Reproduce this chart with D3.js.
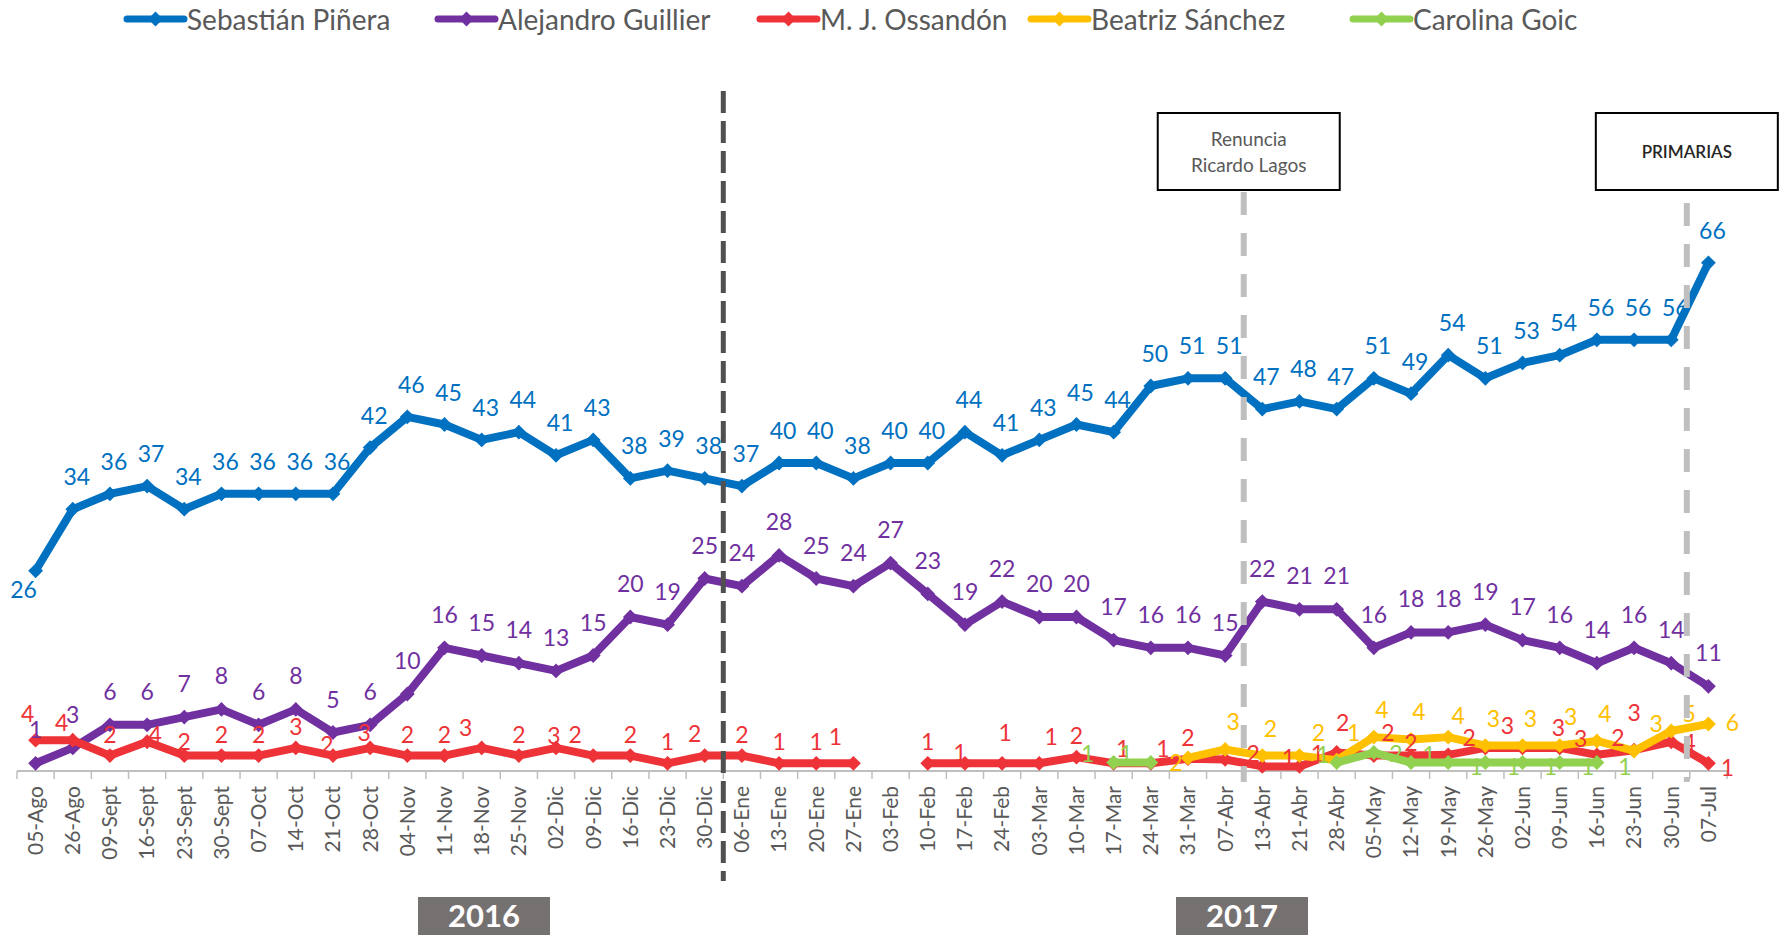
<!DOCTYPE html>
<html>
<head>
<meta charset="utf-8">
<script src="https://cdn.jsdelivr.net/npm/d3@7"></script>
<style>
  body { margin: 0; background: #fff; }
  svg text { font-family: Lato, "Open Sans", sans-serif; }
</style>
</head>
<body>
<svg id="chart"></svg>
<script>
// weekly dates (2016 -> 2017)
var categories = ["05-Ago","26-Ago","09-Sept","16-Sept","23-Sept","30-Sept","07-Oct","14-Oct","21-Oct","28-Oct",
  "04-Nov","11-Nov","18-Nov","25-Nov","02-Dic","09-Dic","16-Dic","23-Dic","30-Dic","06-Ene",
  "13-Ene","20-Ene","27-Ene","03-Feb","10-Feb","17-Feb","24-Feb","03-Mar","10-Mar","17-Mar",
  "24-Mar","31-Mar","07-Abr","13-Abr","21-Abr","28-Abr","05-May","12-May","19-May","26-May",
  "02-Jun","09-Jun","16-Jun","23-Jun","30-Jun","07-Jul"]

var pinera = [26,34,36,37,34,36,36,36,36,42, 46,45,43,44,41,43,38,39,38,37,
  40,40,38,40,40,44,41,43,45,44, 50,51,51,47,48,47,51,49,54,51, 53,54,56,56,56,66]

var guillier = [1,3,6,6,7,8,6,8,5,6, 10,16,15,14,13,15,20,19,25,24,
  28,25,24,27,23,19,22,20,20,17, 16,16,15,22,21,21,16,18,18,19, 17,16,14,16,14,11]

var ossandon = [4,4,2,3.8,2,2,2,3,2,3, 2,2,3,2,3,2,2,1,2,2,
  1,1,1,null,1,1,1,1,1.8,1, 1,1.6,1.5,0.6,0.6,2.4,2,2,2.1,3, 3,3,2.1,2.7,3.8,1]

var sanchez = [null,null,null,null,null,null,null,null,null,null, null,null,null,null,null,null,null,null,null,null,
  null,null,null,null,null,null,null,null,null,null, null,1.7,2.8,2,2,1.4,4.4,4.1,4.4,3.3, 3.3,3.3,3.9,2.6,5.2,6.1]

var goic = [null,null,null,null,null,null,null,null,null,null, null,null,null,null,null,null,null,null,null,null,
  null,null,null,null,null,null,null,null,null,1.1, 1.1,null,null,null,null,1.1,2.4,1.1,1.1,1.1, 1.1,1.1,1.1,null,null,null]

var seriesNames = ["Sebastián Piñera","Alejandro Guillier","M. J. Ossandón","Beatriz Sánchez","Carolina Goic"]
var seriesValues = [pinera, guillier, ossandon, sanchez, goic]
var seriesColors = ["#0070C0","#7030A0","#EE3338","#FFC000","#92D050"]

var yearLabels = ["2016","2017"]
var eventLabels = [["Renuncia","Ricardo Lagos"],["PRIMARIAS"]]
var eventCats = ["13-Abr","07-Jul"]

var W = 1783, H = 935
var svg = d3.select("#chart").attr("width", W).attr("height", H)
svg.append("rect").attr("width", W).attr("height", H).attr("fill", "#fff")

var y0 = 771
var x = d3.scaleBand().domain(categories).range([17, 1727]).padding(0)
var y = d3.scaleLinear().domain([0, 70]).range([y0, y0 - 70 * 7.7])
var cx = c => x(c) + x.bandwidth() / 2

// axis line + boundary ticks
svg.append("line").attr("x1", 17).attr("x2", 1727).attr("y1", y0).attr("y2", y0)
  .attr("stroke", "#BFBFBF").attr("stroke-width", 2)
svg.append("g").selectAll("line")
  .data(categories.map(c => x(c)).concat([x.range()[1]]))
  .join("line")
  .attr("x1", d => d).attr("x2", d => d).attr("y1", y0).attr("y2", y0 + 8)
  .attr("stroke", "#BFBFBF").attr("stroke-width", 1.5)

var gx = svg.append("g").attr("transform", `translate(0,${y0})`)
  .call(d3.axisBottom(x).tickSize(0))
gx.select(".domain").remove()
gx.selectAll("text")
  .attr("transform", "rotate(-90)")
  .attr("text-anchor", "end")
  .attr("x", -15).attr("y", 0).attr("dy", "0.35em")
  .attr("fill", "#595959")
  .style("font-size", "21px")
  .style("font-family", "Lato, sans-serif")

// lines
var line = d3.line()
  .defined(d => d.v != null)
  .x(d => cx(d.c))
  .y(d => y(d.v))

var marker = d3.symbol().type(d3.symbolSquare).size(110)

seriesValues.forEach(function(vals, i){
  var pts = vals.map((v, j) => ({c: categories[j], v: v, i: j}))
  var g = svg.append("g")
  g.append("path").datum(pts)
    .attr("d", line)
    .attr("fill", "none")
    .attr("stroke", seriesColors[i])
    .attr("stroke-width", 8)
    .attr("stroke-linejoin", "round")
  g.selectAll("path.m").data(pts.filter(d => d.v != null))
    .join("path").attr("class", "m")
    .attr("d", marker)
    .attr("transform", d => `translate(${cx(d.c)},${y(d.v)}) rotate(45)`)
    .attr("fill", seriesColors[i])
})

// data label placement (dx, dy from marker), tweaks where the original was moved by hand
var labelShift = [
  {def: [4, -33], 0: [-12, 18]},
  {def: [0, -34]},
  {def: [0, -22], 0: [-8,-27], 1: [-11,-18], 3: [8,-8], 4: [0,-15], 8: [-6,-12], 9: [-6,-16], 12: [-16,-21],
    14: [-2,-13], 15: [-18,-22], 18: [-10,-23], 22: [-18,-27], 25: [-5,-11], 26: [3,-31], 27: [12,-27],
    29: [9,-15], 30: [12,-15], 32: [28,-6], 33: [26,-9], 34: [18,-13], 35: [6,-31], 36: [14,-24], 37: [0,-14],
    38: [21,-18], 39: [22,-23], 40: [36,-21], 41: [21,-10], 42: [21,-18], 43: [0,-38], 44: [18,0], 45: [19,4]},
  {def: [8, -28], 31: [-12,4], 34: [19,-24], 35: [17,-28], 38: [10,-22], 41: [11,-30], 43: [22,-28], 44: [18,-18], 45: [24,-2]},
  {def: [28, 3], 29: [-26,-10], 30: [-25,-10], 35: [-14,-9], 36: [22,0], 37: [18,-9]}
]

seriesValues.forEach(function(vals, i){
  var pts = vals.map((v, j) => ({c: categories[j], v: v, i: j})).filter(d => d.v != null)
  var sh = labelShift[i]
  svg.append("g").selectAll("text").data(pts).join("text")
    .attr("x", d => cx(d.c) + (sh[d.i] || sh.def)[0])
    .attr("y", d => y(d.v) + (sh[d.i] || sh.def)[1])
    .attr("text-anchor", "middle")
    .attr("dominant-baseline", "central")
    .attr("fill", seriesColors[i])
    .style("font-size", "23px")
    .text(d => Math.round(d.v))
})

// year separator
var sepX = x("06-Ene")
svg.append("line").attr("x1", sepX).attr("x2", sepX).attr("y1", 91).attr("y2", 881)
  .attr("stroke", "#505050").attr("stroke-width", 5).attr("stroke-dasharray", "22 8")

// event lines + boxes
var evTop = [192, 203]
eventCats.forEach(function(c, i){
  var ex = x(c) - (i == 1 ? 3 : 0)
  var bx = ex + (i == 0 ? 5 : 0)
  svg.append("line").attr("x1", ex).attr("x2", ex).attr("y1", evTop[i]).attr("y2", 782)
    .attr("stroke", "#BFBFBF").attr("stroke-width", 6).attr("stroke-dasharray", "23 18")
  svg.append("rect").attr("x", bx - 91).attr("y", 113).attr("width", 182).attr("height", 77)
    .attr("fill", "#fff").attr("stroke", "#000").attr("stroke-width", 2)
  var lines = eventLabels[i]
  lines.forEach(function(t, k){
    svg.append("text")
      .attr("x", bx).attr("y", 151.5 + (k - (lines.length - 1) / 2) * 26)
      .attr("text-anchor", "middle").attr("dominant-baseline", "central")
      .attr("fill", lines.length > 1 ? "#595959" : "#262626")
      .style("font-size", lines.length > 1 ? "19px" : "17px")
      .style("font-weight", lines.length > 1 ? 400 : 600)
      .text(t)
  })
})

// year boxes
var yearCx = [484, 1242]
yearLabels.forEach(function(t, i){
  svg.append("rect").attr("x", yearCx[i] - 66).attr("y", 897).attr("width", 132).attr("height", 40)
    .attr("fill", "#767171")
  svg.append("text").attr("x", yearCx[i]).attr("y", 915)
    .attr("text-anchor", "middle").attr("dominant-baseline", "central")
    .attr("fill", "#fff").style("font-size", "31px").style("font-weight", 700)
    .text(t)
})

// legend
var legendX = [127, 438, 760, 1031, 1353]
var lg = svg.append("g").selectAll("g").data(seriesNames).join("g")
  .attr("transform", (d, i) => `translate(${legendX[i]},19)`)
lg.append("line").attr("x1", 0).attr("x2", 57).attr("stroke", (d, i) => seriesColors[i])
  .attr("stroke-width", 7).attr("stroke-linecap", "round")
lg.append("path").attr("d", marker).attr("transform", "translate(28.5,0) rotate(45)")
  .attr("fill", (d, i) => seriesColors[i])
lg.append("text").attr("x", 60).attr("dominant-baseline", "central")
  .attr("fill", "#595959").style("font-size", "28px")
  .text(d => d)
</script>
</body>
</html>
